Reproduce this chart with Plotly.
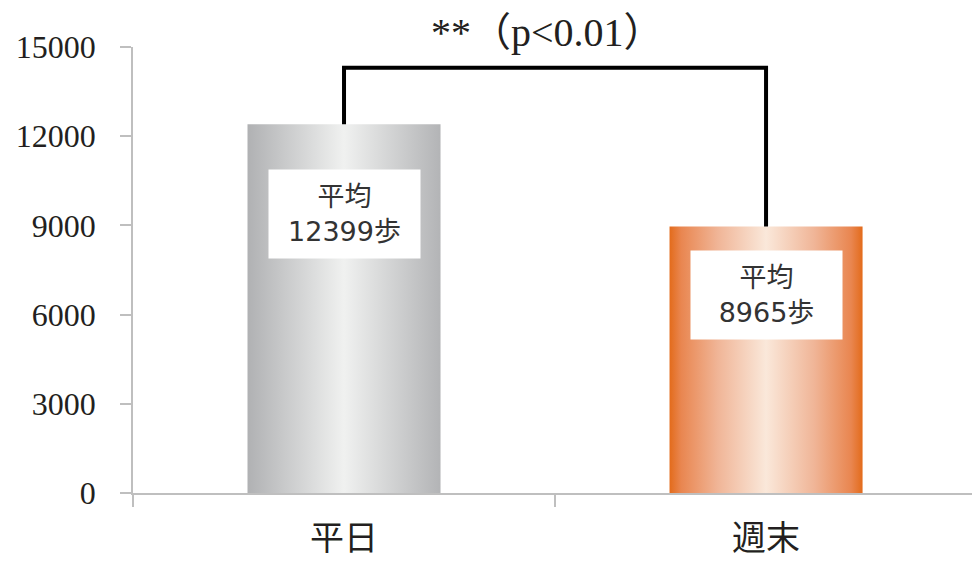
import plotly.graph_objects as go

# ---- data ----
categories = ["平日", "週末"]
mean_steps = [12399, 8965]
y_tickvals = [0, 3000, 6000, 9000, 12000, 15000]
y_ticktext = ["0", "3000", "6000", "9000", "12000", "15000"]
sig_label = "**（p<0.01）"
bracket_height = 14300
label_box_y = [9383, 6659]

# ---- styles ----
gray_scale = [[0, "#b0b1b3"], [0.5, "#f0f1f0"], [1, "#b3b4b6"]]
orange_scale = [[0, "#e36b1b"], [0.06, "#e98650"], [0.25, "#f0b597"],
                [0.5, "#fae8da"], [0.75, "#f0b597"], [0.94, "#e98650"], [1, "#e36b1b"]]
bar_scales = [gray_scale, orange_scale]
half_w = 0.2287
axis_color = "#bfbfbf"
text_color = "#231f20"

fig = go.Figure()

for i, (cat, v) in enumerate(zip(categories, mean_steps)):
    fig.add_trace(go.Scatter(
        x=[i - half_w, i + half_w, i + half_w, i - half_w, i - half_w],
        y=[0, 0, v, v, 0],
        mode="lines", fill="toself",
        line=dict(width=0),
        fillgradient=dict(type="horizontal", colorscale=bar_scales[i]),
        name=cat, showlegend=False, hoverinfo="skip",
    ))

# significance bracket
fig.add_trace(go.Scatter(
    x=[0, 0, 1, 1],
    y=[mean_steps[0], bracket_height, bracket_height, mean_steps[1]],
    mode="lines", line=dict(color="black", width=4),
    showlegend=False, hoverinfo="skip",
))

# value label boxes
for i, v in enumerate(mean_steps):
    fig.add_annotation(
        x=i, y=label_box_y[i], xref="x", yref="y",
        text=f"平均<br>{v}歩", showarrow=False,
        bgcolor="white", width=151, height=88, borderpad=0,
        font=dict(family="DejaVu Sans, Noto Sans CJK JP", size=27, color="#333333"),
    )

fig.add_annotation(
    x=0.483, y=1.033, xref="x", yref="paper",
    text=sig_label, showarrow=False, xanchor="center", yanchor="middle",
    font=dict(family="Liberation Serif, Noto Sans CJK JP", size=40, color=text_color),
)

fig.update_layout(
    width=972, height=562,
    margin=dict(l=133, r=0, t=47, b=69, autoexpand=False),
    plot_bgcolor="white", paper_bgcolor="white",
    xaxis=dict(
        range=[-0.5, 1.488], tickvals=[0, 1], ticktext=categories,
        ticks="", showline=True, linecolor=axis_color, linewidth=1.5,
        showgrid=False, zeroline=False, automargin=False,
        tickfont=dict(family="Noto Sans CJK JP", size=34, color=text_color),
        ticklabelstandoff=14,
        minor=dict(tickvals=[-0.5, 0.5, 1.5], ticks="outside", ticklen=12,
                   tickcolor=axis_color, tickwidth=1.5),
    ),
    yaxis=dict(
        range=[0, 15000], tickvals=y_tickvals, ticktext=y_ticktext,
        ticks="outside", ticklen=11, tickcolor=axis_color, tickwidth=1.5,
        showline=True, linecolor=axis_color, linewidth=1.5,
        showgrid=False, zeroline=False, automargin=False,
        tickfont=dict(family="Liberation Serif", size=32, color=text_color),
        ticklabelstandoff=18,
    ),
)

fig.write_html("out.html")
